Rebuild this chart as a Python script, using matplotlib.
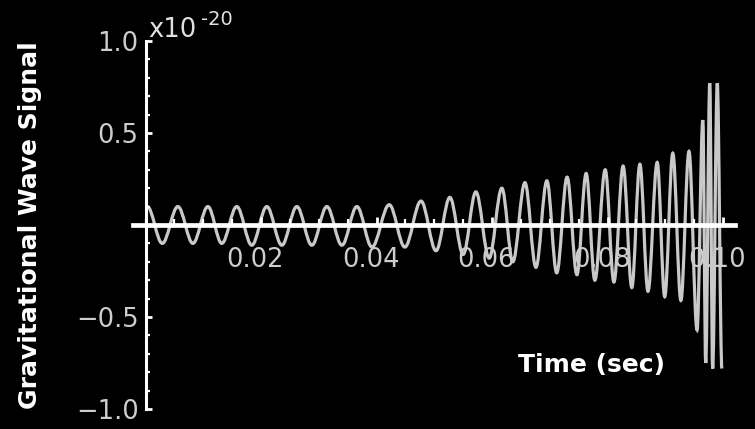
import matplotlib
matplotlib.use('Agg')
import matplotlib.pyplot as plt
import matplotlib.transforms as mtransforms
from matplotlib.path import Path
from matplotlib.patches import PathPatch
from matplotlib.ticker import MultipleLocator, FixedLocator
import numpy as np

# chirp extrema: time (s) and strain (units of 1e-20)
crest_t = [0.0003, 0.0056, 0.0108, 0.0158, 0.0210, 0.0262, 0.0314, 0.0366, 0.0422,
           0.0477, 0.0527, 0.0572, 0.0617, 0.0657, 0.0695, 0.0730, 0.0763, 0.0796,
           0.0827, 0.0856, 0.0886, 0.0913, 0.0941, 0.0965, 0.0977, 0.0990]
crest_h = [0.10, 0.10, 0.10, 0.10, 0.10, 0.10, 0.10, 0.10, 0.11,
           0.13, 0.15, 0.18, 0.20, 0.23, 0.24, 0.26, 0.28, 0.30,
           0.32, 0.33, 0.34, 0.39, 0.40, 0.57, 0.77, 0.77]
trough_t = [0.0029, 0.0082, 0.0132, 0.0184, 0.0236, 0.0288, 0.0340, 0.0392, 0.0449,
            0.0503, 0.0550, 0.0595, 0.0636, 0.0676, 0.0712, 0.0747, 0.0778, 0.0811,
            0.0842, 0.0870, 0.0899, 0.0927, 0.0955, 0.0970, 0.0982, 0.0998]
trough_h = [-0.10, -0.10, -0.10, -0.11, -0.11, -0.11, -0.11, -0.12, -0.12,
            -0.14, -0.16, -0.18, -0.20, -0.23, -0.26, -0.27, -0.30, -0.31,
            -0.34, -0.36, -0.39, -0.41, -0.57, -0.75, -0.78, -0.78]

xtick_vals = [0.02, 0.04, 0.06, 0.08, 0.10]
xtick_labels = ['0.02', '0.04', '0.06', '0.08', '0.10']
ytick_vals = [-1.0, -0.5, 0.5, 1.0]
ytick_labels = ['\u22121.0', '\u22120.5', '0.5', '1.0']

ext_t = np.array(crest_t + trough_t)
ext_h = np.array(crest_h + trough_h)
order = np.argsort(ext_t)
ext_t, ext_h = ext_t[order], ext_h[order]

# each half cycle is a cubic bezier, flat at both extrema
verts = [(ext_t[0], ext_h[0])]
codes = [Path.MOVETO]
k = 0.36
for i in range(len(ext_t) - 1):
    t0, h0, t1, h1 = ext_t[i], ext_h[i], ext_t[i + 1], ext_h[i + 1]
    d = k * (t1 - t0)
    verts += [(t0 + d, h0), (t1 - d, h1), (t1, h1)]
    codes += [Path.CURVE4] * 3
wave = Path(verts, codes)

plt.rcParams['font.family'] = ['DejaVu Sans']

fig = plt.figure(figsize=(7.55, 4.29), dpi=100, facecolor='black')
ax = fig.add_axes([0.1698, 0.0252, 0.8223, 0.9007])
ax.set_facecolor('black')
ax.set_xlim(-0.003, 0.1045)
ax.set_ylim(-1.05, 1.05)

ax.add_patch(PathPatch(wave, fill=False, edgecolor='#c9c9c9', lw=2.3, zorder=1))

for side in ['top', 'right']:
    ax.spines[side].set_visible(False)
ax.spines['left'].set_position(('data', 0))
ax.spines['left'].set_bounds(-1, 1)
ax.spines['left'].set_linewidth(2.2)
ax.spines['left'].set_color('white')
ax.spines['bottom'].set_position(('data', 0))
ax.spines['bottom'].set_bounds(-0.0022, 0.1021)
ax.spines['bottom'].set_linewidth(3.4)
ax.spines['bottom'].set_color('white')

ax.xaxis.set_major_locator(FixedLocator(xtick_vals))
ax.set_xticklabels(xtick_labels)
ax.xaxis.set_minor_locator(MultipleLocator(0.005))
ax.yaxis.set_major_locator(FixedLocator(ytick_vals))
ax.set_yticklabels(ytick_labels)
ax.yaxis.set_minor_locator(MultipleLocator(0.1))

ax.tick_params(which='both', direction='in', color='white', labelcolor='#cdcdcd',
               labelsize=18.5)
ax.tick_params(axis='x', which='major', length=6, width=2, pad=16)
ax.tick_params(axis='x', which='minor', length=4, width=1.6)
ax.tick_params(axis='y', which='major', length=4, width=2, pad=5)
ax.tick_params(axis='y', which='minor', length=3, width=1.6)

# time labels sit a little left of their ticks
shift = mtransforms.ScaledTranslation(-6 / 100, 0, fig.dpi_scale_trans)
for lbl in ax.get_xticklabels():
    lbl.set_transform(lbl.get_transform() + shift)

fig.text(148 / 755, 1 - 37 / 429, 'x10', color='#e0e0e0', fontsize=18.5,
         ha='left', va='baseline')
fig.text(201 / 755, 1 - 25 / 429, '-20', color='#e0e0e0', fontsize=14,
         ha='left', va='baseline')

fig.text(30 / 755, 1 - 225 / 429, 'Gravitational Wave Signal', color='white',
         fontsize=18, fontweight='bold', rotation=90, ha='center', va='center')
fig.text(592 / 755, 1 - 365 / 429, 'Time (sec)', color='white',
         fontsize=18, fontweight='bold', ha='center', va='center')

fig.savefig('out.png', dpi=100, facecolor='black')
